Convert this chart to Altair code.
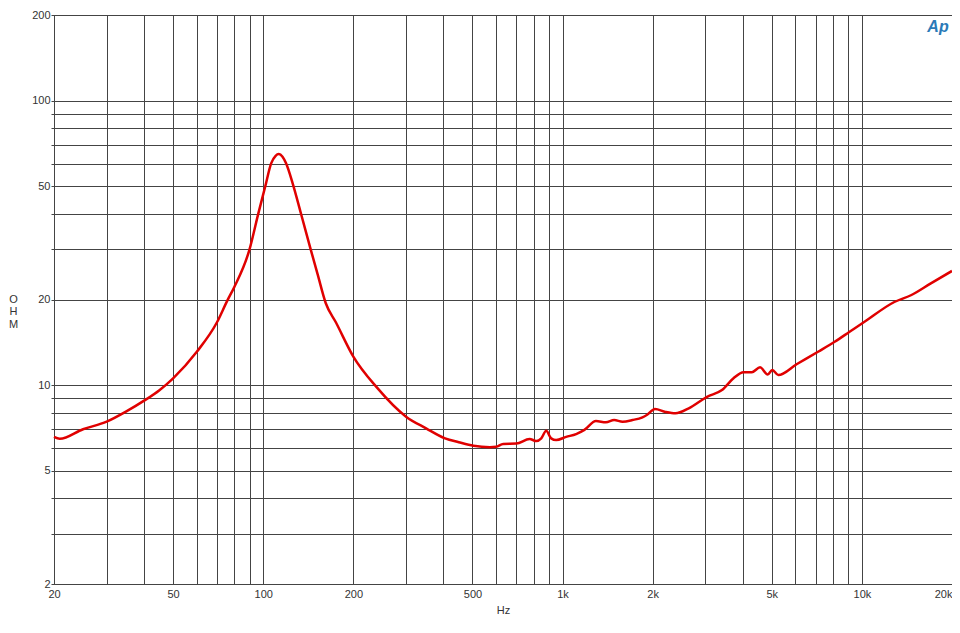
import altair as alt
import pandas as pd

freq_hz = [20, 20.9, 25, 30, 35, 40, 45, 50, 60, 70, 76, 80, 90, 96, 101.5, 106.3, 110, 112.7, 116,
           119.2, 125.4, 133.6, 144.2, 152, 161.8, 175, 200, 240, 300, 350, 405, 450, 504, 572,
           600, 633, 701, 776, 817, 849, 882, 916, 952, 1028, 1110, 1183, 1293, 1396, 1487,
           1587, 1712, 1849, 1917, 2035, 2209, 2385, 2640, 3039, 3408, 3725, 4023, 4290, 4570,
           4846, 5020, 5257, 6051, 7137, 8110, 9098, 10204, 12836, 14584, 16997, 20000]
impedance_ohm = [6.58, 6.48, 7.0, 7.44, 8.1, 8.82, 9.6, 10.57, 13.1, 16.6, 19.9, 22.1, 30.0, 39.6,
                 49.8, 60.2, 64.0, 64.9, 63.5, 60.2, 51.2, 40.2, 29.9, 24.5, 19.4, 16.6, 12.6, 9.8,
                 7.75, 7.05, 6.5, 6.3, 6.12, 6.05, 6.07, 6.21, 6.23, 6.47, 6.36, 6.5, 6.91, 6.5,
                 6.41, 6.58, 6.73, 6.96, 7.48, 7.4, 7.54, 7.44, 7.54, 7.71, 7.87, 8.24, 8.05, 7.96,
                 8.29, 9.10, 9.61, 10.57, 11.1, 11.1, 11.55, 10.9, 11.3, 10.85, 11.84, 13.1, 14.2,
                 15.4, 16.7, 19.6, 20.7, 22.8, 25.2]

x_grid = [20, 30, 40, 50, 60, 70, 80, 90, 100, 200, 300, 400, 500, 600, 700, 800, 900,
          1000, 2000, 3000, 4000, 5000, 6000, 7000, 8000, 9000, 10000, 20000]
x_labels = [20, 50, 100, 200, 500, 1000, 2000, 5000, 10000, 20000]
y_grid = [2, 3, 4, 5, 6, 7, 8, 9, 10, 20, 30, 40, 50, 60, 70, 80, 90, 100, 200]
y_labels = [2, 5, 10, 20, 50, 100, 200]

df = pd.DataFrame({"Hz": freq_hz, "OHM": impedance_ohm})

grid_color = "#444444"
label_color = "#333333"
font = "Liberation Sans"

x_label_expr = ("indexof(" + str(x_labels) + ", datum.value) >= 0 ? "
                "(datum.value >= 1000 ? (datum.value/1000) + 'k' : datum.value + '') : ''")
y_label_expr = "indexof(" + str(y_labels) + ", datum.value) >= 0 ? datum.value + '' : ''"

line = alt.Chart(df).mark_line(color="#e00000", strokeWidth=2.5, interpolate="monotone").encode(
    x=alt.X("Hz:Q",
            scale=alt.Scale(type="log", domain=[20, 20000], nice=False),
            axis=alt.Axis(values=x_grid, labelExpr=x_label_expr, grid=True, gridColor=grid_color,
                          gridOpacity=1, gridWidth=1, ticks=False, domain=False,
                          labelPadding=4, labelFont=font, labelFontSize=11, labelColor=label_color,
                          labelAlign=alt.ExprRef(expr="datum.value >= 20000 ? 'right' : 'center'"),
                          labelFlush=False, labelOverlap=False,
                          title="Hz", titleFont=font, titleFontSize=11, titleFontWeight="normal",
                          titleColor=label_color, titlePadding=5)),
    y=alt.Y("OHM:Q",
            scale=alt.Scale(type="log", domain=[2, 200], nice=False),
            axis=alt.Axis(values=y_grid, labelExpr=y_label_expr, grid=True, gridColor=grid_color,
                          gridOpacity=1, gridWidth=1, ticks=True, tickSize=3, tickColor=grid_color,
                          domain=False, labelPadding=1, labelFont=font, labelFontSize=11,
                          labelColor=label_color, labelFlush=False, labelOverlap=False,
                          title=["O", "H", "M"], titleAngle=0, titleAlign="center",
                          titleBaseline="middle", titleX=-41, titleY=284, titleLineHeight=12.5,
                          titleFont=font, titleFontSize=11, titleFontWeight="normal",
                          titleColor=label_color)),
)

logo = alt.Chart(pd.DataFrame({"t": ["Ap"]})).mark_text(
    font=font, fontSize=16, fontStyle="italic", fontWeight="bold", color="#2a7ab8",
    align="center", baseline="middle"
).encode(text="t:N", x=alt.value(884), y=alt.value(12))

chart = alt.layer(line, logo).properties(
    width=898, height=569,
    autosize=alt.AutoSizeParams(type="none"),
    padding={"left": 46, "top": 7, "right": 0, "bottom": 30},
    background="white",
).configure_view(stroke="#222222", strokeWidth=1)

chart.save("out.html", embed_options={"renderer": "svg", "actions": False})
